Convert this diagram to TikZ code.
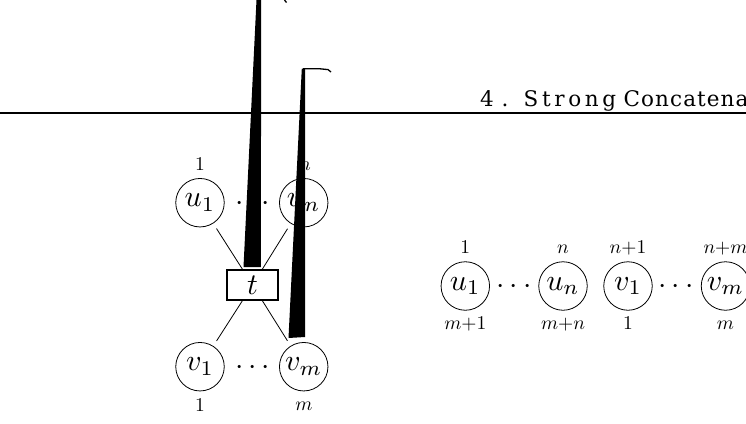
\RequirePackage{fix-cm}
\documentclass[tikz,border=0pt]{standalone}
\usepackage{fontspec}
\usepackage{graphicx}
\newfontfamily\hdrA[LetterSpace=36]{DejaVu Serif}
\newfontfamily\hdrB[LetterSpace=17]{DejaVu Serif}
\newfontfamily\hdrC[LetterSpace=5]{DejaVu Serif}
\newcommand\myNodeTxt[1]{\scalebox{3}{$#1$}}
\newcommand\myLabTxt[1]{\scalebox{1.95}{$#1$}}
\begin{document}
\begin{tikzpicture}[x=1pt,y=-1pt,
  vtx/.style={circle,draw,line width=0.8pt,minimum size=48.5pt,inner sep=0pt,font=\fontsize{10}{12}\selectfont},
  tbox/.style={draw,line width=1.4pt,minimum width=51pt,minimum height=30pt,inner sep=0pt,font=\fontsize{10}{12}\selectfont},
  lbl/.style={anchor=base,inner sep=0pt,font=\fontsize{10}{12}\selectfont},
  dots/.style={anchor=base,inner sep=0pt,font=\fontsize{10}{12}\selectfont},
  edge/.style={line width=0.8pt,shorten <=6pt},
  hdr/.style={anchor=base west,inner sep=0pt},
  wedge/.style={fill=black,draw=none},
  hook/.style={line width=1.3pt}]
\useasboundingbox (0,0) rectangle (746,423);
\clip (0,0) rectangle (746,423);
% header
\draw[line width=1.5pt] (0,113) -- (746,113);
\node[hdr,font=\hdrA\fontsize{21.5}{26}\selectfont] (hnum) at (480,106.7) {4.};
\node[hdr,font=\hdrB\fontsize{21.5}{26}\selectfont] (hw1) at (523.5,106.7) {Strong};
\node[hdr,font=\hdrC\fontsize{21.5}{26}\selectfont] (hw2) at (623.5,106.7) {Concatena};
% left diagram
\node[vtx] (u1) at (200,202.7) {\myNodeTxt{u_1}};
\node[vtx] (un) at (303.7,202.7) {\myNodeTxt{u_n}};
\node[vtx] (v1) at (200,366.7) {\myNodeTxt{v_1}};
\node[vtx] (vm) at (303.7,366.7) {\myNodeTxt{v_m}};
\node[tbox] (t) at (252.5,285) {\myNodeTxt{t}};
\node[dots] (dtop) at (252.5,210.2) {\myNodeTxt{\cdots}};
\node[dots] (dbot) at (252.5,374.2) {\myNodeTxt{\cdots}};
\node[lbl] (lu1) at (200,170.7) {\myLabTxt{1}};
\node[lbl] (lun) at (305,170.2) {\myLabTxt{n}};
\node[lbl] (lv1) at (200,411) {\myLabTxt{1}};
\node[lbl] (lvm) at (304,410) {\myLabTxt{m}};
\draw[edge] (u1) -- (t);
\draw[edge] (un) -- (t);
\draw[edge] (v1) -- (t);
\draw[edge] (vm) -- (t);
% right diagram
\node[vtx] (ru1) at (465.3,286) {\myNodeTxt{u_1}};
\node[vtx] (run) at (563,286) {\myNodeTxt{u_n}};
\node[vtx] (rv1) at (628,286) {\myNodeTxt{v_1}};
\node[vtx] (rvm) at (725.5,286) {\myNodeTxt{v_m}};
\node[dots] (rd1) at (514,293) {\myNodeTxt{\cdots}};
\node[dots] (rd2) at (676,293) {\myNodeTxt{\cdots}};
\node[lbl] (ta) at (465.3,253.8) {\myLabTxt{1}};
\node[lbl] (tb) at (563,253.8) {\myLabTxt{n}};
\node[lbl] (tc) at (628,253.8) {\myLabTxt{n{+}1}};
\node[lbl] (td) at (725.5,253.8) {\myLabTxt{n{+}m}};
\node[lbl] (ba) at (465.3,329.3) {\myLabTxt{m{+}1}};
\node[lbl] (bb) at (563,329.3) {\myLabTxt{m{+}n}};
\node[lbl] (bc) at (628,329.8) {\myLabTxt{1}};
\node[lbl] (bd) at (725.5,329.3) {\myLabTxt{m}};
% black wedges
\fill[wedge] (256.5,0) -- (261.2,0) -- (260.8,267) -- (243.5,267) -- cycle;
\draw[hook] (284.5,0) -- (286.5,2.5);
\fill[wedge] (301.8,68.5) -- (305.2,68.5) -- (305,337) -- (288.5,338) -- cycle;
\draw[hook] (303,68.8) -- (320,68.8) -- (328,69.6) -- (331,72);
\end{tikzpicture}
\end{document}
